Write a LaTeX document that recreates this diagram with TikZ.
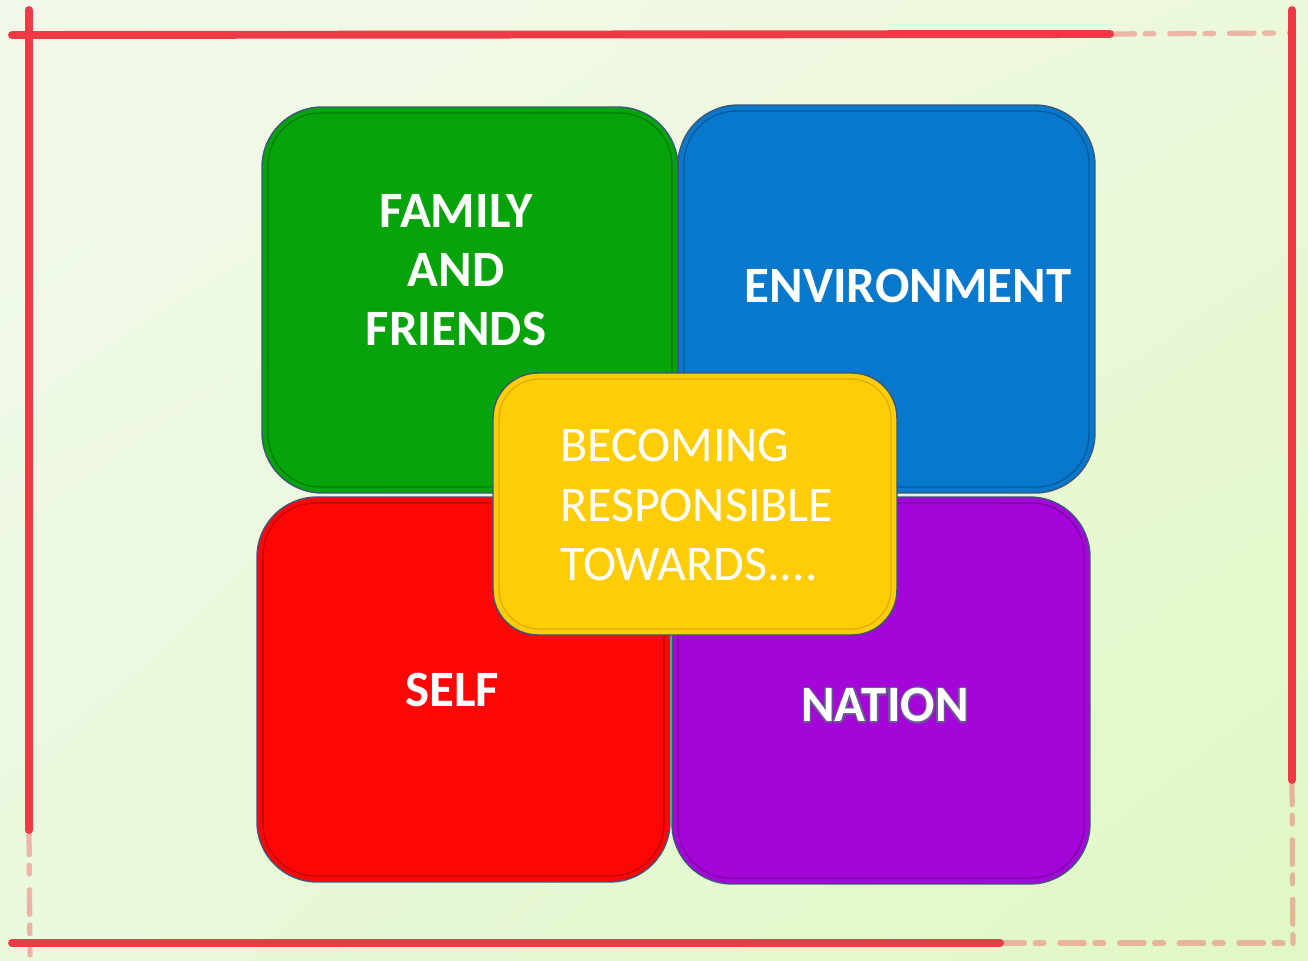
\documentclass[tikz,border=0pt]{standalone}
\usepackage{fontspec}
\setmainfont{Carlito}
\usepackage{contour}
\contourlength{0.7pt}
\usetikzlibrary{shadings}
\definecolor{famgreen}{HTML}{06A40A}
\definecolor{envblue}{HTML}{0878CC}
\definecolor{selfred}{HTML}{FF0606}
\definecolor{natpurple}{HTML}{A405D8}
\definecolor{coreyellow}{HTML}{FFCC08}
\definecolor{edgeblue}{HTML}{3A5878}
\definecolor{brushred}{HTML}{EE3A44}
\definecolor{natline}{HTML}{6A5A90}
\definecolor{bgTL}{HTML}{F2F9EC}
\definecolor{bgTR}{HTML}{ECF8DA}
\definecolor{bgBL}{HTML}{EAF8DC}
\definecolor{bgBR}{HTML}{E0F8C4}
\begin{document}
\begin{tikzpicture}[x=0.02cm,y=-0.02cm,
    tile/.style={draw=edgeblue, line width=0.8pt, rounded corners=1.2cm, inner sep=0pt},
    rim/.style={line width=0.7pt, rounded corners=1.05cm, inner sep=0pt},
    caption/.style={text=white, font=\bfseries\fontsize{29}{33.4}\selectfont, align=center},
    brush/.style={draw=brushred, line width=4.5pt, line cap=round},
    faded/.style={brush, opacity=0.35, line width=3pt, dash pattern=on 14pt off 6pt on 5pt off 9pt}]
      % page and its background
      \shade[upper left=bgTL, upper right=bgTR, lower left=bgBL, lower right=bgBR]
             (0,0) rectangle (1308,960);
      \useasboundingbox (0,0) rectangle (1308,960);
      % rough red frame
      \draw[brush] (12,35) -- (1110,34);
      \draw[faded] (1110,34) -- (1290,33);
      \draw[brush] (12,943) -- (1000,943);
      \draw[faded] (1000,943) -- (1290,943);
      \draw[brush] (29,10) -- (29,830);
      \draw[faded] (29,830) -- (30,955);
      \draw[brush] (1292,10) -- (1292,780);
      \draw[faded] (1292,780) -- (1293,955);
      % the four tiles
      \node[tile, fill=famgreen, minimum width=8.32cm, minimum height=7.72cm] (family) at (470,300) {};
      \node[rim, draw=famgreen!75!black, minimum width=8.08cm, minimum height=7.48cm] (familyRim) at (470,300) {};
      \node[tile, fill=envblue, minimum width=8.34cm, minimum height=7.76cm] (environ) at (886.5,299) {};
      \node[rim, draw=envblue!75!black, minimum width=8.10cm, minimum height=7.52cm] (environRim) at (886.5,299) {};
      \node[tile, fill=selfred, minimum width=8.26cm, minimum height=7.70cm] (self) at (463.5,689.5) {};
      \node[rim, draw=selfred!75!black, minimum width=8.02cm, minimum height=7.46cm] (selfRim) at (463.5,689.5) {};
      \node[tile, fill=natpurple, minimum width=8.36cm, minimum height=7.74cm] (nation) at (881,690.5) {};
      \node[rim, draw=natpurple!75!black, minimum width=8.12cm, minimum height=7.50cm] (nationRim) at (881,690.5) {};
      % the centre tile
      \node[tile, fill=coreyellow, rounded corners=0.9cm, minimum width=8.08cm, minimum height=5.24cm] (core) at (695,504) {};
      \node[rim, draw=coreyellow!85!black, rounded corners=0.8cm, minimum width=7.84cm, minimum height=5.00cm] (coreRim) at (695,504) {};
      % labels
      \node[caption] (familyText) at (456,270) {FAMILY\\AND\\FRIENDS};
      \node[caption] (environText) at (908,286) {ENVIRONMENT};
      \node[caption] (selfText) at (452,690) {SELF};
      \node[caption] (nationText) at (885,706) {\contour{natline}{NATION}};
      \node[caption, font=\fontsize{28.4}{33.6}\selectfont, align=left, anchor=west] (coreText) at (554,505) {BECOMING\\RESPONSIBLE\\TOWARDS....};
    \end{tikzpicture}
\end{document}
